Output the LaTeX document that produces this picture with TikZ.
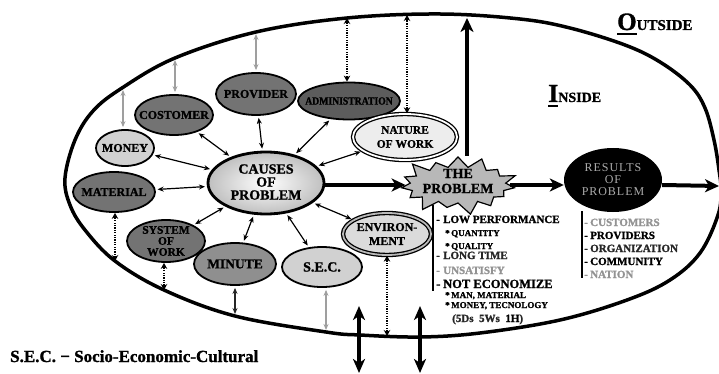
\documentclass[tikz,border=0pt]{standalone}
\usepackage{graphicx}
\usepackage{fontspec}
\setmainfont[BoldFeatures={FakeBold=1.3}]{Liberation Serif}
\usetikzlibrary{shapes.geometric,shapes.symbols,arrows.meta}
\newcommand\myfs[2]{\fontsize{#1}{#2}\selectfont}
\definecolor{dkf}{gray}{0.45}
\definecolor{adf}{gray}{0.36}
\definecolor{mdf}{gray}{0.56}
\definecolor{ltf}{gray}{0.82}
\definecolor{natf}{gray}{0.93}
\definecolor{envf}{gray}{0.86}
\definecolor{starf}{gray}{0.72}
\begin{document}
\begin{tikzpicture}[x=1pt,y=-1pt,
 ell/.style={ellipse, draw=black, line width=1.8pt, inner sep=0pt},
 ell2/.style={ellipse, draw=black, line width=1.3pt, double=white, double distance=1.8pt, inner sep=0pt},
 lab/.style={inner sep=0pt, align=center, font=\bfseries},
 bi/.style={line width=1.2pt, {Stealth[length=6pt,width=5pt]}-{Stealth[length=6pt,width=5pt]}, shorten <=2pt, shorten >=2pt},
 gbi/.style={bi, draw=gray!75},
 dbi/.style={line width=2.6pt, {Stealth[length=6pt,width=6.5pt]}-{Stealth[length=6pt,width=6.5pt]},
   postaction={draw=white, line width=1.1pt, dash pattern=on 1.2pt off 1.2pt, arrows=-, shorten <=6pt, shorten >=6pt}},
 bigar/.style={line width=4.5pt, -{Stealth[length=14pt,width=13pt,inset=4pt]}},
 bigbi/.style={line width=4pt, {Stealth[length=14pt,width=12pt,inset=4pt]}-{Stealth[length=14pt,width=12pt,inset=4pt]}},
 item/.style={anchor=base west, inner sep=0pt, font=\bfseries\myfs{11}{11}},
 sub/.style={anchor=base west, inner sep=0pt, font=\bfseries\myfs{9}{9}},
]
\useasboundingbox (0,0) rectangle (719,374);
\begin{scope}
\clip (0,0) rectangle (719,374);
% outer boundary
\draw[line width=3.5pt] plot[smooth cycle, tension=0.6] coordinates {
 (65,178) (75,140) (93,111) (122,88) (175,58) (256,32) (347,18) (440,14) (520,19)
 (570,28) (625,45) (660,62) (690,85) (705,108) (714,140) (719,170) (721,190)
 (718,215) (700,253) (670,280) (627,300) (560,320) (480,333) (420,337) (360,335)
 (326,332) (235,316) (164,290) (115,261) (85,230) (70,205)};

% labels outside/inside
\node[anchor=base west, inner sep=0pt, font=\bfseries] (outT) at (617,30) {\myfs{25}{25}O\myfs{15}{15}UTSIDE};
\draw[line width=2pt] (617,34) -- (637,34);
\node[anchor=base west, inner sep=0pt, font=\bfseries] (inT) at (548,102) {\myfs{26}{26}I\myfs{14}{14}NSIDE};
\draw[line width=2pt] (548,106) -- (558,106);

% nodes
\node[ell, fill=dkf, minimum width=78pt, minimum height=40pt] (cust) at (174,115) {};
\node[lab, font=\bfseries\myfs{12}{12}] (custT) at (cust) {COSTOMER};
\node[ell, fill=dkf, minimum width=80pt, minimum height=42pt] (prov) at (256,94) {};
\node[lab, font=\bfseries\myfs{12}{12}] (provT) at (prov) {PROVIDER};
\node[ell, fill=adf, minimum width=102pt, minimum height=37pt] (adm) at (349,101) {};
\node[lab, font=\bfseries\myfs{11}{11}] (admT) at (adm) {\scalebox{0.88}[1]{ADMINISTRATION}};
\node[ell2, fill=natf, minimum width=104pt, minimum height=46pt] (nat) at (405,137) {};
\node[lab, font=\bfseries\myfs{11.5}{14}] (natT) at (nat) {NATURE\\OF WORK};
\node[ell, fill=ltf, minimum width=58pt, minimum height=36pt] (mon) at (125,148) {};
\node[lab, font=\bfseries\myfs{12}{12}] (monT) at (mon) {MONEY};
\node[ell, fill=dkf, minimum width=82pt, minimum height=40pt] (mat) at (114,192) {};
\node[lab, font=\bfseries\myfs{12}{12}] (matT) at (mat) {MATERIAL};
\node[ell, fill=dkf, minimum width=78pt, minimum height=42pt] (sys) at (166,241) {};
\node[lab, font=\bfseries\myfs{11.5}{11}] (sysT) at (sys) {SYSTEM\\OF\\WORK};
\node[ell, fill=mdf, minimum width=82pt, minimum height=42pt] (minu) at (235,264) {};
\node[lab, font=\bfseries\myfs{13.5}{13.5}] (minuT) at (minu) {MINUTE};
\node[ell, fill=ltf, minimum width=80pt, minimum height=40pt] (sec) at (322,267) {};
\node[lab, font=\bfseries\myfs{14}{14}] (secT) at (sec) {S.E.C.};
\node[ell2, double=gray!55, fill=envf, minimum width=88pt, minimum height=42pt] (env) at (387,234) {};
\node[lab, font=\bfseries\myfs{12}{14}] (envT) at (env) {ENVIRON-\\MENT};
\node[ell, line width=2.8pt, shade, shading=radial, inner color=white, outer color=gray!50, minimum width=116pt, minimum height=62pt] (cau) at (266,183) {};
\node[lab, font=\bfseries\myfs{14}{13}] (cauT) at (266,182) {CAUSES\\OF\\PROBLEM};
\node[starburst, starburst points=15, starburst point height=14pt, draw=black, line width=1.2pt, fill=starf, minimum width=124pt, minimum height=64pt, inner sep=0pt] (star) at (458,185) {};
\node[lab, font=\bfseries\myfs{14}{15}] (starT) at (458,181) {THE\\PROBLEM};
\node[ellipse, fill=black, minimum width=98pt, minimum height=64pt, inner sep=0pt] (res) at (613,180) {};
\node[lab, font=\myfs{12}{12}\addfontfeature{LetterSpace=8}, text=gray!65] (resT) at (res) {RESULTS\\OF\\PROBLEM};

% arrows from causes
\draw[bi] (cau) -- (cust);
\draw[bi] (cau) -- (prov);
\draw[bi] (cau) -- (adm);
\draw[bi] (cau) -- (nat);
\draw[bi] (cau) -- (mon);
\draw[bi] (cau) -- (mat);
\draw[bi] (cau) -- (sys);
\draw[bi] (cau) -- (minu);
\draw[bi] (cau) -- (sec);
\draw[bi] (cau) -- (env);

% boundary coordinates
\coordinate (bCust) at (175,58);
\coordinate (bProv) at (256,32);
\coordinate (bAdm) at (347,18);
\coordinate (bNat) at (407,15);
\coordinate (bMon) at (123,88);
\coordinate (bMat) at (115,261);
\coordinate (bSys) at (164,290);
\coordinate (bMin) at (235,316);
\coordinate (bSec) at (326,332);
\coordinate (bEnv) at (387,336);
\draw[gbi] (cust.north -| bCust) -- (bCust);
\draw[gbi] (prov.north -| bProv) -- (bProv);
\draw[dbi] (adm.north -| bAdm) -- (bAdm);
\draw[dbi] (nat.north -| bNat) -- (bNat);
\draw[gbi] (mon.north -| bMon) -- (bMon);
\draw[dbi] (mat.south -| bMat) -- (bMat);
\draw[dbi] (sys.south -| bSys) -- (bSys);
\draw[bi, draw=gray!30!black] (minu.south -| bMin) -- (bMin);
\draw[gbi] (sec.south -| bSec) -- (bSec);
\draw[dbi] (env.south -| bEnv) -- (bEnv);

% main flow
\coordinate (edgeR) at (719,186);
\coordinate (upS) at (467,156);
\coordinate (upE) at (467,18);
\draw[bigar] (cau.east |- star.west) -- (star.west);
\draw[bigar, line width=4pt] (star.east) -- (res.west |- star.east);
\draw[bigar, line width=4pt] (res.east |- star.east) -- (edgeR);
\draw[bigar, line width=4pt] (upS) -- (upE);
\coordinate (d1a) at (359,306); \coordinate (d1b) at (359,373);
\coordinate (d2a) at (420,306); \coordinate (d2b) at (420,373);
\draw[bigbi] (d1a) -- (d1b);
\draw[bigbi] (d2a) -- (d2b);

% problem list
\coordinate (plT) at (433,205); \coordinate (plB) at (433,291);
\draw[line width=1.8pt] (plT) -- (plB);
\node[item] (p1) at (436,223) {\makebox[7pt][l]{-}LOW PERFORMANCE};
\node[sub] (p2) at (445,236) {*\,QUANTITY};
\node[sub] (p3) at (445,249) {*\,QUALITY};
\node[item, text=gray!30!black] (p4) at (436,259) {\makebox[7pt][l]{-}LONG TIME};
\node[item, text=gray!85] (p5) at (436,274) {\makebox[7pt][l]{-}UNSATISFY};
\node[item, font=\bfseries\myfs{12.5}{12.5}] (p6) at (436,288) {\makebox[7pt][l]{-}NOT ECONOMIZE};
\node[sub] (p7) at (445,298) {*\,MAN, MATERIAL};
\node[sub] (p8) at (445,308) {*\,MONEY, TECNOLOGY};
\node[item, text=gray!30!black] (p9) at (452,322) {(5Ds\ \ 5Ws\ \ {\color{black}1H})};

% results list
\coordinate (rlT) at (582,211); \coordinate (rlB) at (582,278);
\draw[line width=1.8pt] (rlT) -- (rlB);
\node[item, text=gray!85] (r1) at (584,226) {\makebox[6pt][l]{-}CUSTOMERS};
\node[item] (r2) at (584,239) {\makebox[6pt][l]{-}PROVIDERS};
\node[item, text=gray!30!black] (r3) at (584,252) {\makebox[6pt][l]{-}ORGANIZATION};
\node[item] (r4) at (584,265) {\makebox[6pt][l]{-}COMMUNITY};
\node[item, text=gray!85] (r5) at (584,278) {\makebox[6pt][l]{-}NATION};

% legend
\node[anchor=base west, inner sep=0pt, font=\bfseries\myfs{17}{17}] (legend) at (10,362) {S.E.C. − Socio-Economic-Cultural};
\end{scope}
\end{tikzpicture}
\end{document}
